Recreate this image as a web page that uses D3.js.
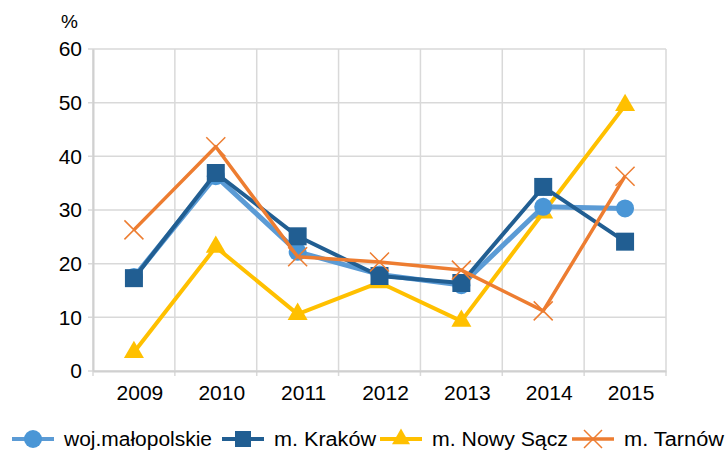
<!DOCTYPE html>
<html>
<head>
<meta charset="utf-8">
<script src="https://cdn.jsdelivr.net/npm/d3@7"></script>
<style>
  body { margin: 0; background: #fff; }
  svg { display: block; font-family: "Liberation Sans", Arial, sans-serif; }
</style>
</head>
<body>
<svg id="chart"></svg>
<script>
const years = ["2009", "2010", "2011", "2012", "2013", "2014", "2015"];
const yTicks = [0, 10, 20, 30, 40, 50, 60];
const seriesNames = ["woj.małopolskie", "m. Kraków", "m. Nowy Sącz", "m. Tarnów"];
const malopolskie = [17.5, 36.3, 22.2, 18.0, 16.0, 30.6, 30.3];
const krakow = [17.3, 36.9, 25.1, 17.7, 16.4, 34.3, 24.1];
const nowySacz = [3.5, 23.1, 10.6, 16.5, 9.3, 29.5, 49.5];
const tarnow = [26.3, 41.8, 21.3, 20.3, 18.8, 11.2, 36.3];

const layout = {
  width: 727,
  height: 451,
  plot: { left: 93, right: 666, top: 49, bottom: 371 },
};

const series = [
  { name: seriesNames[0], values: malopolskie, color: "#5b9bd5", marker: "#4a96d6", shape: "circle", width: 5, textWidth: 148 },
  { name: seriesNames[1], values: krakow, color: "#215e92", marker: "#215e92", shape: "square", width: 4, textWidth: 102 },
  { name: seriesNames[2], values: nowySacz, color: "#ffc000", marker: "#ffc000", shape: "triangle", width: 4, textWidth: 136 },
  { name: seriesNames[3], values: tarnow, color: "#ed7d31", marker: "#ed7d31", shape: "x", width: 3.5, textWidth: 100 },
];
// draw order: yellow at the bottom, orange on top
const drawOrder = [2, 0, 1, 3];

function markerPath(shape, s) {
  if (shape === "circle") return d3.symbol(d3.symbolCircle, Math.PI * s * s / 4)();
  if (shape === "square") return d3.symbol(d3.symbolSquare, s * s)();
  if (shape === "triangle") return d3.symbol(d3.symbolTriangle, Math.sqrt(3) / 4 * s * s)();
  const h = s / 2;
  return `M${-h},${-h}L${h},${h}M${-h},${h}L${h},${-h}`;
}

const { width, height, plot } = layout;
const svg = d3.select("#chart").attr("width", width).attr("height", height);

const x = d3.scaleBand().domain(years).range([plot.left, plot.right]).padding(0);
const y = d3.scaleLinear().domain([0, 60]).range([plot.bottom, plot.top]);

// grid
const bounds = years.map((d) => x(d)).concat([plot.right]);
svg.append("g")
  .selectAll("line")
  .data(bounds)
  .join("line")
  .attr("x1", (d) => d).attr("x2", (d) => d)
  .attr("y1", plot.top).attr("y2", plot.bottom + 5)
  .attr("stroke", "#d9d9d9").attr("stroke-width", 1.5);
svg.append("g")
  .selectAll("line")
  .data(yTicks)
  .join("line")
  .attr("x1", plot.left - 5).attr("x2", plot.right)
  .attr("y1", (d) => y(d)).attr("y2", (d) => y(d))
  .attr("stroke", "#d9d9d9").attr("stroke-width", 1.5);

// axes
svg.append("g")
  .attr("transform", `translate(0, ${plot.bottom})`)
  .call(d3.axisBottom(x).tickSize(0).tickPadding(14))
  .call((g) => g.select(".domain").attr("stroke", "#d0d0d0").attr("stroke-width", 2))
  .call((g) => g.selectAll("text").attr("fill", "#000").attr("dx", 6).style("font-size", "21px").style("font-family", "Liberation Sans, Arial, sans-serif"));
svg.append("g")
  .attr("transform", `translate(${plot.left}, 0)`)
  .call(d3.axisLeft(y).tickValues(yTicks).tickSize(0).tickPadding(11))
  .call((g) => g.select(".domain").attr("stroke", "#d0d0d0").attr("stroke-width", 2))
  .call((g) => g.selectAll("text").attr("fill", "#000").style("font-size", "21px").style("font-family", "Liberation Sans, Arial, sans-serif"));

svg.append("text")
  .attr("x", 61).attr("y", 28)
  .style("font-size", "19px")
  .text("%");

// series
const line = d3.line()
  .x((d, i) => x(years[i]) + x.bandwidth() / 2)
  .y((d) => y(d));

drawOrder.forEach((k) => {
  const s = series[k];
  const g = svg.append("g");
  g.append("path")
    .attr("d", line(s.values))
    .attr("fill", "none")
    .attr("stroke", s.color)
    .attr("stroke-width", s.width)
    .attr("stroke-linejoin", "round");
  g.selectAll("path.marker")
    .data(s.values)
    .join("path")
    .attr("class", "marker")
    .attr("transform", (d, i) => `translate(${x(years[i]) + x.bandwidth() / 2}, ${y(d)})`)
    .attr("d", markerPath(s.shape, s.shape === "x" ? 19 : s.shape === "triangle" ? 20 : 18))
    .attr("fill", s.shape === "x" ? "none" : s.marker)
    .attr("stroke", s.shape === "x" ? s.marker : "none")
    .attr("stroke-width", 1.5);
});

// legend
const legendX = [12, 222, 380, 572];
const legendY = 439;
const legend = svg.append("g")
  .selectAll("g")
  .data(series)
  .join("g")
  .attr("transform", (d, i) => `translate(${legendX[i]}, ${legendY})`);
legend.append("line")
  .attr("x1", 0).attr("x2", 42)
  .attr("stroke", (d) => d.color)
  .attr("stroke-width", (d) => Math.min(d.width, 4));
legend.append("path")
  .attr("transform", "translate(21, 0)")
  .attr("d", (d) => markerPath(d.shape, d.shape === "square" ? 16 : 18))
  .attr("fill", (d) => (d.shape === "x" ? "none" : d.marker))
  .attr("stroke", (d) => (d.shape === "x" ? d.marker : "none"))
  .attr("stroke-width", 1.5);
legend.append("text")
  .attr("x", 52)
  .attr("y", 7)
  .attr("textLength", (d) => d.textWidth)
  .attr("lengthAdjust", "spacingAndGlyphs")
  .style("font-size", "20px")
  .text((d) => d.name);
</script>
</body>
</html>
